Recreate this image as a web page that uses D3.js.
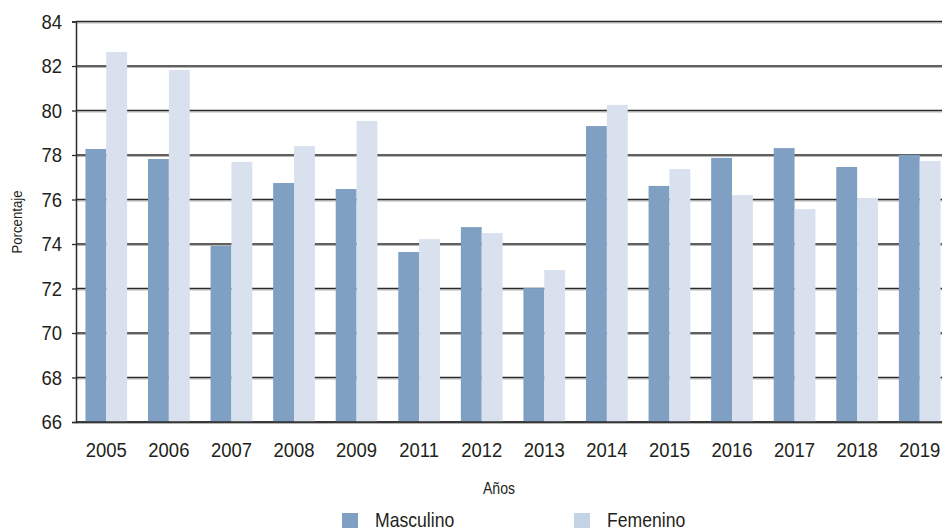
<!DOCTYPE html>
<html>
<head>
<meta charset="utf-8">
<script src="https://cdn.jsdelivr.net/npm/d3@7"></script>
<style>
  body { margin: 0; background: #fff; }
  svg text { font-family: "Liberation Sans", Arial, sans-serif; fill: #231f20; }
</style>
</head>
<body>
<div id="chart"></div>
<script>
let years = ["2005", "2006", "2007", "2008", "2009", "2011", "2012", "2013", "2014", "2015", "2016", "2017", "2018", "2019"];
let masculino = [78.27, 77.82, 73.91, 76.74, 76.47, 73.64, 74.76, 72.02, 79.30, 76.61, 77.87, 78.31, 77.46, 78.00];
let femenino = [82.63, 81.82, 77.69, 78.40, 79.53, 74.22, 74.49, 72.83, 80.25, 77.37, 76.20, 75.57, 76.07, 77.73];
let yTicks = [66, 68, 70, 72, 74, 76, 78, 80, 82, 84];
let series = ["Masculino", "Femenino"];

let width = 942;
let height = 530;
let narrow = 0.88; // horizontal squeeze to mimic a condensed face

let svg = d3.select('#chart')
    .append('svg')
    .attr('width', width)
    .attr('height', height);

let x0 = d3.scaleBand()
    .domain(years)
    .range([75, 951])
    .paddingInner(1 / 3)
    .paddingOuter(1 / 6);

let x1 = d3.scaleBand()
    .domain(series)
    .range([0, x0.bandwidth()]);

let y = d3.scaleLinear()
    .domain([66, 84])
    .range([422, 21.5]);

let colors = { Masculino: "#7f9fc3", Femenino: "#d9e1ee" };
let legendColors = { Masculino: "#7f9fc3", Femenino: "#c5d3e7" };

// gridlines (dark line with a light grey one just under it)
yTicks.forEach(function (t) {
    svg.append('line')
        .attr('x1', 76).attr('x2', width)
        .attr('y1', y(t) + 1.5).attr('y2', y(t) + 1.5)
        .attr('stroke', '#b5b5b5')
        .attr('stroke-width', 1);
    svg.append('line')
        .attr('x1', 76).attr('x2', width)
        .attr('y1', y(t)).attr('y2', y(t))
        .attr('stroke', '#2b2b2b')
        .attr('stroke-width', 1.3);
});

// bars
years.forEach(function (yr, i) {
    let vals = { Masculino: masculino[i], Femenino: femenino[i] };
    series.forEach(function (s) {
        svg.append('rect')
            .attr('x', x0(yr) + x1(s))
            .attr('y', y(vals[s]))
            .attr('width', x1.bandwidth())
            .attr('height', y(66) - y(vals[s]))
            .attr('fill', colors[s]);
    });
});

// y axis
let yAxis = d3.axisLeft(y)
    .tickValues(yTicks)
    .tickSize(4)
    .tickPadding(0)
    .tickFormat(d3.format('d'));
let gy = svg.append('g')
    .attr('transform', 'translate(76,0)')
    .call(yAxis);
gy.select('.domain').attr('stroke', '#2b2b2b').attr('stroke-width', 1.5);
gy.selectAll('.tick line').attr('stroke', '#2b2b2b').attr('stroke-width', 1.3);
gy.selectAll('.tick text')
    .attr('x', 0)
    .attr('transform', 'translate(-14,0) scale(' + narrow + ',1)')
    .style('font-size', '21px')
    .attr('fill', '#231f20');

// bottom axis line
svg.append('line')
    .attr('x1', 76).attr('x2', width)
    .attr('y1', y(66)).attr('y2', y(66))
    .attr('stroke', '#2b2b2b')
    .attr('stroke-width', 1.5);

// x axis labels
let xAxis = d3.axisBottom(x0).tickSize(0).tickPadding(20);
let gx = svg.append('g')
    .attr('transform', 'translate(0,' + y(66) + ')')
    .call(xAxis);
gx.select('.domain').remove();
gx.selectAll('.tick text')
    .attr('transform', 'scale(' + narrow + ',1)')
    .style('font-size', '21px')
    .attr('fill', '#231f20');

// axis titles
svg.append('text')
    .attr('transform', 'translate(499,494) scale(' + narrow + ',1)')
    .attr('text-anchor', 'middle')
    .style('font-size', '16px')
    .text('Años');

svg.append('text')
    .attr('transform', 'translate(22,222) rotate(-90) scale(' + narrow + ',1)')
    .attr('text-anchor', 'middle')
    .style('font-size', '15px')
    .text('Porcentaje');

// legend
let legendX = [342, 574];
series.forEach(function (s, i) {
    svg.append('rect')
        .attr('x', legendX[i])
        .attr('y', 513)
        .attr('width', 16)
        .attr('height', 15)
        .attr('fill', legendColors[s]);
    svg.append('text')
        .attr('transform', 'translate(' + (legendX[i] + 33) + ',527) scale(' + narrow + ',1)')
        .style('font-size', '20px')
        .text(s);
});
</script>
</body>
</html>
